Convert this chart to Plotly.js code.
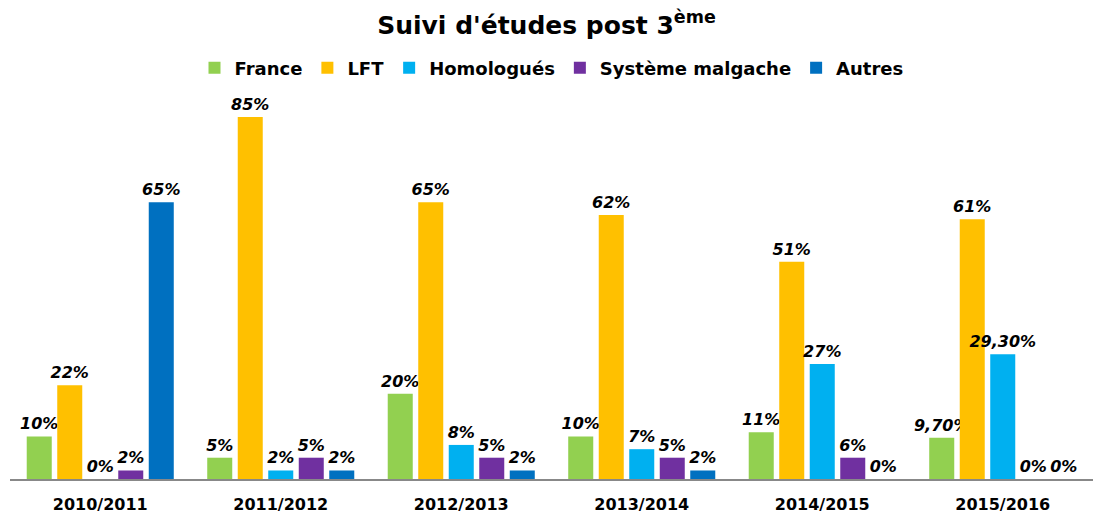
<!DOCTYPE html>
<html><head><meta charset="utf-8">
<script src="https://cdn.plot.ly/plotly-3.0.1.min.js"></script>
<style>html,body{margin:0;padding:0;background:#fff}#chart{width:1093px;height:513px}</style>
</head><body><div id="chart"></div>
<script>
const years = ["2010/2011","2011/2012","2012/2013","2013/2014","2014/2015","2015/2016"];
const france = [10, 5, 20, 10, 11, 9.7];
const lft = [22, 85, 65, 62, 51, 61];
const homologues = [0, 2, 8, 7, 27, 29.3];
const systeme = [2, 5, 5, 5, 5, 0];
const autres = [65, 2, 2, 2, 0, 0];
const franceLabels = ["10%","5%","20%","10%","11%","9,70%"];
const lftLabels = ["22%","85%","65%","62%","51%","61%"];
const homologuesLabels = ["0%","2%","8%","7%","27%","29,30%"];
const systemeLabels = ["2%","5%","5%","5%","6%","0%"];
const autresLabels = ["65%","2%","2%","2%","0%","0%"];
const names = ["France","LFT","Homologués","Système malgache","Autres"];
const colors = ["#92D050","#FFC000","#00B0F0","#7030A0","#0070C0"];

const series = [france, lft, homologues, systeme, autres];
const labels = [franceLabels, lftLabels, homologuesLabels, systemeLabels, autresLabels];
const font = "DejaVu Sans, sans-serif";

const data = series.map((s, i) => ({
  type: "bar",
  name: names[i],
  x: years,
  y: s,
  text: labels[i],
  textposition: "outside",
  textangle: 0,
  constraintext: "none",
  cliponaxis: false,
  textfont: {family: font, size: 16, color: "#000", weight: "bold", style: "italic"},
  marker: {color: colors[i]},
  hoverinfo: "x+y+name"
}));

const layout = {
  width: 1093, height: 513,
  margin: {l: 10, r: 0, t: 100, b: 34},
  paper_bgcolor: "#fff", plot_bgcolor: "#fff",
  barmode: "group",
  bargap: 0.155,
  bargroupgap: 0.18,
  title: {text: "<b>Suivi d'études post 3<sup>ème</sup></b>", x: 0.5, xanchor: "center",
          y: 0.951, yref: "container", yanchor: "middle",
          font: {family: font, size: 25, color: "#000"}},
  legend: {orientation: "h", x: 0.5, xanchor: "center", y: 1.084, yanchor: "middle",
           font: {family: font, size: 18, color: "#000", weight: "bold"},
           itemwidth: 30, traceorder: "normal"},
  xaxis: {showline: true, linecolor: "#888", linewidth: 2, showgrid: false, ticks: "",
          ticklabelstandoff: 10,
          tickfont: {family: font, size: 16, color: "#000", weight: "bold"}},
  yaxis: {range: [0, 89], visible: false, showgrid: false, zeroline: false},
  showlegend: true
};

Plotly.newPlot("chart", data, layout, {displayModeBar: false, staticPlot: true});
</script></body></html>
